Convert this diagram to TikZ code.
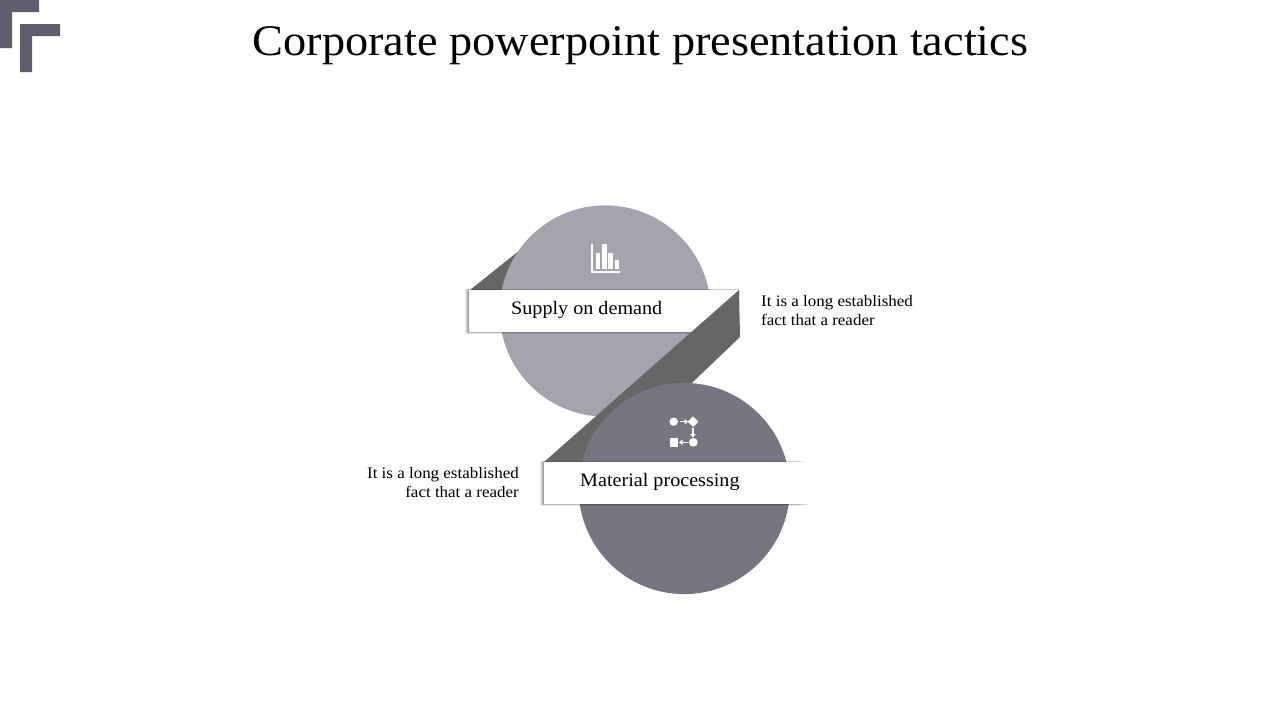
\documentclass[tikz,border=0pt]{standalone}
\usepackage{fontspec}
\setmainfont[FakeStretch=1.06]{Liberation Serif}
\begin{document}
\begin{tikzpicture}[x=1pt,y=-1pt,
  logo/.style={fill=logogray,draw=none},
  band/.style={fill=bandgray,draw=none},
  ico/.style={fill=white,draw=none},
  icoline/.style={draw=white,line width=1.3pt},
  title/.style={inner sep=0pt,font=\fontsize{43.7}{48}\selectfont},
  head/.style={inner sep=0pt,font=\fontsize{19}{23}\selectfont},
  body/.style={inner sep=0pt,font=\fontsize{16}{19}\selectfont,align=left}]
\definecolor{logogray}{HTML}{5F5D6D}
\definecolor{bandgray}{HTML}{666666}
\definecolor{circA}{HTML}{A5A3AD}
\definecolor{circB}{HTML}{787582}
\useasboundingbox (0,0) rectangle (1280,720);
\fill[white] (0,0) rectangle (1280,720);
% logo
\fill[logo] (0,0)--(39,0)--(39,12)--(12,12)--(12,48)--(0,48)--cycle;
\fill[logo] (20,24)--(60,24)--(60,36)--(32,36)--(32,72)--(20,72)--cycle;
\node[title,anchor=base] (t) at (640.5,55) {Corporate powerpoint presentation tactics};
% upper
\fill[band] (470,290)--(525,246)--(540,290)--cycle;
\fill[circA] (605.2,311) circle (105.6);
\foreach \d/\o in {4/.08,3/.1,2/.12,1/.14}{
  \fill[black,opacity=\o] (469-\d,290-\d*.25)--(739,290-\d*.25)--(739,296)--(715,332+\d*.45)--(469-\d,332+\d*.45)--cycle;}
\fill[white] (469,290)--(739,290)--(700,332)--(469,332)--cycle;
\fill[band] (739,290)--(740,337)--(609,462)--(544,462)--cycle;
\node[head,anchor=base west] (a) at (511,314) {Supply on demand};
% bar icon
\fill[ico] (591,244) rectangle (593,273);
\fill[ico] (591,270.6) rectangle (619.6,273);
\fill[ico] (596,253) rectangle (600,268.6);
\fill[ico] (602.3,244) rectangle (606.7,268.6);
\fill[ico] (608.3,253) rectangle (612.7,268.6);
\fill[ico] (614.7,260) rectangle (619,268.6);
% lower
\fill[circB] (684.2,488.5) circle (105.6);
\foreach \d/\o/\e in {4/.08/800,3/.1/804,2/.12/808,1/.14/812}{
  \fill[black,opacity=\o] (543.5-\d,462-\d*.25) rectangle (\e,504+\d*.45);}
\fill[white] (543.5,462) rectangle (812,504);
\node[head,anchor=base west] (b) at (580,486) {Material processing};
% process icon
\fill[ico] (673.7,421.7) circle (4.2);
\fill[ico] (693,416.4)--(698.3,421.7)--(693,427)--(687.7,421.7)--cycle;
\fill[ico] (693.3,442.3) circle (4.4);
\fill[ico] (669.5,438) rectangle (677.8,446.5);
\coordinate (p1) at (679.5,421.7); \coordinate (p2) at (688,421.7);
\coordinate (p3) at (693,427.5); \coordinate (p4) at (693,437.5);
\coordinate (p5) at (688,442.3); \coordinate (p6) at (679,442.3);
% captions
\node[body,anchor=base west] (c) at (761,306) {It is a long established};
\node[body,anchor=base west] (d) at (761,325) {fact that a reader};
\node[body,anchor=base east] (e) at (519,478) {It is a long established};
\node[body,anchor=base east] (f) at (519,497) {fact that a reader};
\draw[icoline] (p1)--(685,421.7);
\fill[ico] (p2)--(684.5,418.9)--(684.5,424.5)--cycle;
\draw[icoline] (p3)--(693,434.5);
\fill[ico] (p4)--(690.2,434)--(695.8,434)--cycle;
\draw[icoline] (p5)--(682,442.3);
\fill[ico] (p6)--(682.5,439.5)--(682.5,445.1)--cycle;
\end{tikzpicture}
\end{document}
